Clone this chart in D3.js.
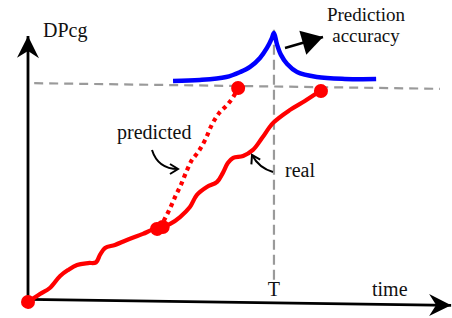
<!DOCTYPE html>
<html>
<head>
<meta charset="utf-8">
<script src="https://cdn.jsdelivr.net/npm/d3@7/dist/d3.min.js"></script>
<style>
  html, body { margin: 0; padding: 0; background: #fff; }
  #chart svg text { font-family: 'Liberation Serif', 'Times New Roman', serif; font-size: 20px; fill: #111; }
</style>
</head>
<body>
<div id="chart"></div>
<script>
// DPcg vs time sketch: real trace, predicted trace, prediction accuracy peak at T
// values are read off the drawing, both axes in 0..100 units

var realTime  = [0, 2.9, 5.3, 7.8, 9.7, 11.9, 14.6, 16.5, 17.5, 18.7, 21.1, 24.0, 27.9, 30.1, 32.0,
                 34.5, 36.9, 39.3, 41.0, 43.4, 45.9, 47.3, 48.5, 49.8, 52.2, 54.6, 56.8, 59.5, 63.6, 67.2, 70.9];
var realValue = [-1, 2.1, 4.5, 9.2, 11.5, 13.5, 14.3, 14.6, 17.6, 20.2, 21.4, 23.4, 25.8, 27.4, 28.2,
                 29.8, 32.5, 36.4, 41.1, 44.2, 46.2, 49.7, 53.5, 55.5, 56.3, 58.7, 63.3, 69.2, 74.3, 77.8, 81.7];

var predTime  = [32.0, 33.3, 34.5, 35.9, 37.1, 38.6, 39.8, 41.3, 43.0, 44.7, 46.4, 48.3, 49.8, 51.0];
var predValue = [28.2, 32.0, 35.9, 40.9, 44.8, 50.6, 54.5, 57.6, 62.3, 68.4, 72.7, 75.8, 78.9, 82.4];

var accTime  = [35.2, 41.7, 48.1, 51.5, 53.9, 56.3, 58.0, 59.2, 59.7, 60.4, 61.4, 62.9, 65.3, 70.1, 76.9, 84.5];
var accValue = [84.8, 85.3, 86.6, 88.6, 90.6, 94.1, 98.0, 101.8, 103.8, 99.6, 95.4, 91.9, 88.9, 87.1, 86.5, 86.6];

// big red dots: start, current (two overlapping), predicted end, real end
var dotTime  = [0, 31.3, 32.7, 51.0, 71.1];
var dotValue = [-1, 27.8, 28.6, 82.4, 81.7];

var LEVEL = 83.2;   // grey horizontal reference
var T_MARK = 59.7;  // time T

var W = 452, H = 318;

var svg = d3.select('#chart').append('svg')
  .attr('width', W)
  .attr('height', H);

var x = d3.scaleLinear().domain([0, 100]).range([28, 440]);
var y = d3.scaleLinear().domain([0, 100]).range([299, 39]);

var defs = svg.append('defs');

function marker(id, d, filled, w) {
  defs.append('marker')
    .attr('id', id)
    .attr('viewBox', '-26 -14 28 28')
    .attr('refX', 0).attr('refY', 0)
    .attr('markerWidth', 28).attr('markerHeight', 28)
    .attr('markerUnits', 'userSpaceOnUse')
    .attr('orient', 'auto')
    .append('path')
    .attr('d', d)
    .attr('fill', filled ? '#000' : 'none')
    .attr('stroke', filled ? 'none' : '#000')
    .attr('stroke-width', w || 0);
}
marker('axisHead', 'M0,0 L-22,-11 L-15,0 L-22,11 Z', true);
marker('bigHead', 'M0,0 L-21,-12.5 L-21,12.5 Z', true);
marker('openHead', 'M-8,-5 L0,0 L-8,5', false, 2);

// the drawing leans a little, so the plot layer is skewed
var g = svg.append('g').attr('transform', 'skewY(0.8)');

// grey reference lines
g.append('line')
  .attr('x1', x(1.5)).attr('y1', y(LEVEL))
  .attr('x2', x(100)).attr('y2', y(LEVEL))
  .attr('stroke', '#9a9a9a').attr('stroke-width', 2.2)
  .attr('stroke-dasharray', '9,6');

g.append('line')
  .attr('x1', x(T_MARK)).attr('y1', y(105))
  .attr('x2', x(T_MARK)).attr('y2', y(8))
  .attr('stroke', '#9a9a9a').attr('stroke-width', 2.2)
  .attr('stroke-dasharray', '10,5');

// axes
g.append('line')
  .attr('x1', x(0)).attr('y1', y(-0.5))
  .attr('x2', x(0)).attr('y2', y(101.3))
  .attr('stroke', '#000').attr('stroke-width', 2.8)
  .attr('marker-end', 'url(#axisHead)');

g.append('line')
  .attr('x1', x(0)).attr('y1', y(0))
  .attr('x2', x(102.7)).attr('y2', y(0))
  .attr('stroke', '#000').attr('stroke-width', 2.8)
  .attr('marker-end', 'url(#axisHead)');

var line = d3.line()
  .x(function (d) { return x(d[0]); })
  .y(function (d) { return y(d[1]); })
  .curve(d3.curveCatmullRom.alpha(0.5));

// prediction accuracy
g.append('path')
  .attr('d', line(d3.zip(accTime, accValue)))
  .attr('fill', 'none')
  .attr('stroke', '#0000ff')
  .attr('stroke-width', 4.5);

// predicted (dotted)
g.append('path')
  .attr('d', line(d3.zip(predTime, predValue)))
  .attr('fill', 'none')
  .attr('stroke', '#ff0000')
  .attr('stroke-width', 4.2)
  .attr('stroke-dasharray', '4,4');

// real
g.append('path')
  .attr('d', line(d3.zip(realTime, realValue)))
  .attr('fill', 'none')
  .attr('stroke', '#ff0000')
  .attr('stroke-width', 4.2)
  .attr('stroke-linejoin', 'round');

g.selectAll('.dot')
  .data(d3.zip(dotTime, dotValue))
  .join('circle')
  .attr('class', 'dot')
  .attr('cx', function (d) { return x(d[0]); })
  .attr('cy', function (d) { return y(d[1]); })
  .attr('r', 7)
  .attr('fill', '#ff0000');

// annotation arrows
var ann = svg.append('g');
ann.append('path')
  .attr('d', 'M152,150 Q158,169 178,169')
  .attr('fill', 'none').attr('stroke', '#000').attr('stroke-width', 2)
  .attr('marker-end', 'url(#openHead)');

ann.append('path')
  .attr('d', 'M273,172 Q259,168 252,155')
  .attr('fill', 'none').attr('stroke', '#000').attr('stroke-width', 2)
  .attr('marker-end', 'url(#openHead)');

ann.append('line')
  .attr('x1', 285).attr('y1', 48)
  .attr('x2', 323).attr('y2', 37)
  .attr('stroke', '#000').attr('stroke-width', 2.5)
  .attr('marker-end', 'url(#bigHead)');

// labels
var labels = svg.append('g');
labels.append('text').attr('x', 43).attr('y', 37).text('DPcg');
labels.append('text').attr('x', 366).attr('y', 20.5).attr('text-anchor', 'middle')
  .style('font-size', '19px').text('Prediction');
labels.append('text').attr('x', 366).attr('y', 42).attr('text-anchor', 'middle')
  .style('font-size', '19px').text('accuracy');
labels.append('text').attr('x', 117).attr('y', 139).text('predicted');
labels.append('text').attr('x', 285).attr('y', 177).text('real');
labels.append('text').attr('x', 372).attr('y', 296).text('time');
labels.append('text').attr('x', x(T_MARK)).attr('y', 296).attr('text-anchor', 'middle').text('T');
</script>
</body>
</html>
